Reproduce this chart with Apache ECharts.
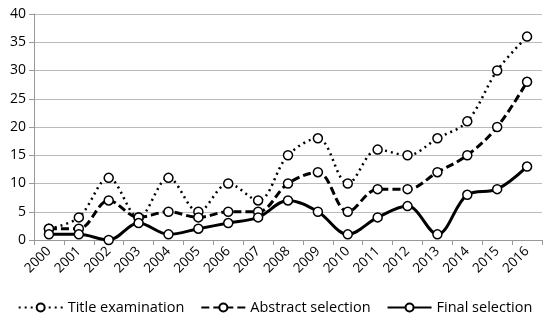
<!DOCTYPE html>
<html><head><meta charset="utf-8">
<script src="https://cdn.jsdelivr.net/npm/echarts@6/dist/echarts.min.js"></script>
<style>html,body{margin:0;padding:0;background:#fff}#c{width:550px;height:322px}</style>
</head><body><div id="c"></div>
<script>
const years = ['2000','2001','2002','2003','2004','2005','2006','2007','2008','2009','2010','2011','2012','2013','2014','2015','2016'];
const titleExamination = [2,4,11,4,11,5,10,7,15,18,10,16,15,18,21,30,36];
const abstractSelection = [2,2,7,4,5,4,5,5,10,12,5,9,9,12,15,20,28];
const finalSelection = [1,1,0,3,1,2,3,4,7,5,1,4,6,1,8,9,13];
const yTicks = {min:0, max:40, interval:5};
const font = 'Open Sans';
function mk(name, data, type, width){
  return {name, type:'line', data, smooth:0.35, symbol:'circle', symbolSize:9,
    lineStyle:{color:'#000', width, type},
    itemStyle:{color:'#fff', borderColor:'#000', borderWidth:1.5},
    emphasis:{disabled:true}};
}
const chart = echarts.init(document.getElementById('c'));
chart.setOption({
  animation:false,
  grid:{left:34, right:8, top:14, bottom:82},
  legend:{bottom:2, left:'center', itemWidth:44, itemHeight:10, itemGap:16,
    textStyle:{fontFamily:font, fontSize:14.5, color:'#000'}},
  xAxis:{type:'category', data:years, boundaryGap:true,
    axisLine:{lineStyle:{color:'#999'}},
    axisTick:{show:true, lineStyle:{color:'#999'}},
    axisLabel:{rotate:45, fontFamily:font, fontSize:13.5, color:'#000', margin:9}},
  yAxis:{type:'value', min:yTicks.min, max:yTicks.max, interval:yTicks.interval,
    axisLine:{show:true, lineStyle:{color:'#999'}},
    axisTick:{show:true, lineStyle:{color:'#999'}},
    splitLine:{lineStyle:{color:'#bbb', width:1}},
    axisLabel:{fontFamily:font, fontSize:14, color:'#000', margin:8}},
  series:[
    mk('Title examination', titleExamination, [2,4], 2.5),
    mk('Abstract selection', abstractSelection, [8,4], 3),
    mk('Final selection', finalSelection, 'solid', 3)
  ]
});
</script></body></html>
